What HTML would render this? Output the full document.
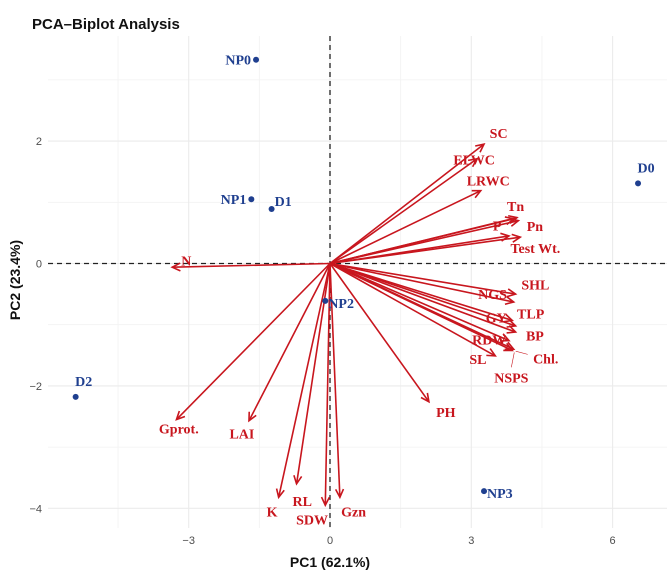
<!DOCTYPE html>
<html><head><meta charset="utf-8"><style>
html,body{margin:0;padding:0;background:#fff;}
svg{display:block;}
</style></head><body>
<svg id="chart" width="669" height="575" viewBox="0 0 669 575" xmlns="http://www.w3.org/2000/svg">
<text x="32" y="29" font-family="Liberation Sans, sans-serif" font-weight="bold" font-size="15" fill="#111">PCA–Biplot Analysis</text>
<g id="grid"></g>
<g id="axes"></g>
<g id="arrows"></g>
<g id="points"></g>
<text x="330" y="567" text-anchor="middle" font-family="Liberation Sans, sans-serif" font-weight="bold" font-size="14" fill="#111">PC1 (62.1%)</text>
<text transform="translate(20,280) rotate(-90)" text-anchor="middle" font-family="Liberation Sans, sans-serif" font-weight="bold" font-size="14" fill="#111">PC2 (23.4%)</text>
</svg>
<script>
const xTicks = [-3, 0, 3, 6];
const yTicks = [-4, -2, 0, 2];
const xMinor = [-4.5, -1.5, 1.5, 4.5];
const yMinor = [-3, -1, 1, 3];
const varNames = ["SC","ELWC","LRWC","Tn","P","Pn","Test Wt.","Test Wt.2","SHL","NGS","GY","TLP","BP","RDW","Chl.","NSPS","SL","PH","N","Gprot.","LAI","K","RL","SDW","Gzn"];
const varX = [3.27,3.12,3.20,3.97,3.90,4.00,3.80,4.04,3.94,3.90,3.87,3.94,3.94,3.80,3.90,3.87,3.51,2.10,-3.35,-3.26,-1.72,-1.09,-0.71,-0.10,0.21];
const varY = [1.95,1.71,1.19,0.75,0.73,0.70,0.45,0.43,-0.50,-0.63,-0.93,-1.02,-1.12,-1.26,-1.40,-1.42,-1.51,-2.26,-0.06,-2.55,-2.57,-3.82,-3.60,-3.95,-3.82];
const labelX = [3.58,3.06,3.36,3.94,3.55,4.35,4.36,null,4.36,3.45,3.53,4.26,4.35,3.38,4.58,3.85,3.14,2.46,-3.05,-3.21,-1.87,-1.23,-0.59,-0.38,0.50];
const labelY = [2.13,1.70,1.36,0.94,0.62,0.61,0.25,null,-0.34,-0.50,-0.88,-0.82,-1.18,-1.24,-1.55,-1.86,-1.56,-2.43,0.05,-2.70,-2.78,-4.05,-3.88,-4.18,-4.05];
const obsNames = ["NP0","NP1","D1","D0","NP2","D2","NP3"];
const obsX = [-1.57,-1.67,-1.24,6.54,-0.10,-5.4,3.27];
const obsY = [3.33,1.05,0.89,1.31,-0.61,-2.18,-3.72];

const X0=330, Y0=263.5, KX=47.1, KY=61.2;
const L=48, R=667, T=36, B=528;
const sx = v => X0 + KX*v;
const sy = v => Y0 - KY*v;
const NS="http://www.w3.org/2000/svg";
function mk(tag, attrs, parent){const e=document.createElementNS(NS,tag);for(const k in attrs)e.setAttribute(k,attrs[k]);parent.appendChild(e);return e;}
const grid=document.getElementById('grid'), axes=document.getElementById('axes'), arrows=document.getElementById('arrows'), points=document.getElementById('points');

xMinor.forEach(v=>{const l=mk('line',{x1:sx(v),x2:sx(v),y1:T,y2:B,stroke:'#f2f2f2','stroke-width':0.8},grid);

});
yMinor.forEach(v=>{const l=mk('line',{x1:L,x2:R,y1:sy(v),y2:sy(v),stroke:'#f2f2f2','stroke-width':0.8},grid);

});
xTicks.forEach(v=>{const l=mk('line',{x1:sx(v),x2:sx(v),y1:T,y2:B,stroke:'#ebebeb','stroke-width':1.1},grid);


const t=mk('text',{x:sx(v),y:B+16,'text-anchor':'middle','font-family':'Liberation Sans, sans-serif','font-size':11,fill:'#4d4d4d'},axes);
t.textContent=(v<0?'\u2212'+Math.abs(v):v);

});
yTicks.forEach(v=>{const l=mk('line',{x1:L,x2:R,y1:sy(v),y2:sy(v),stroke:'#ebebeb','stroke-width':1.1},grid);


const t=mk('text',{x:42,y:sy(v)+4,'text-anchor':'end','font-family':'Liberation Sans, sans-serif','font-size':11,fill:'#4d4d4d'},axes);
t.textContent=(v<0?'\u2212'+Math.abs(v):v);

});
const hz=mk('line',{x1:L,x2:R,y1:sy(0),y2:sy(0),stroke:'#222','stroke-width':1.3,'stroke-dasharray':'5,4'},axes);


const vz=mk('line',{x1:sx(0),x2:sx(0),y1:T,y2:B,stroke:'#222','stroke-width':1.3,'stroke-dasharray':'5,4'},axes);



const RED='#c8161e';
varNames.forEach((n,i)=>{
  const x1=sx(0),y1=sy(0),x2=sx(varX[i]),y2=sy(varY[i]);
  const g=mk('g',{},arrows);
  
  
  mk('line',{x1,y1,x2,y2,stroke:RED,'stroke-width':1.6},g);
  const a=Math.atan2(y2-y1,x2-x1), h=9, w=0.45;
  const p=`M${x2-h*Math.cos(a-w)},${y2-h*Math.sin(a-w)} L${x2},${y2} L${x2-h*Math.cos(a+w)},${y2-h*Math.sin(a+w)}`;
  mk('path',{d:p,fill:'none',stroke:RED,'stroke-width':1.6},g);
  if(labelX[i]!==null){
    const lx=sx(labelX[i]), ly=sy(labelY[i]);
    if(n==='Chl.'||n==='NSPS'){
      const ll=mk('line',{x1:lx-(n==='Chl.'?18:0),y1:ly-(n==='Chl.'?4:10),x2:x2+2,y2:y2+2,stroke:RED,'stroke-width':0.6},g);
      
      
    }
    const t=mk('text',{x:lx,y:ly+5,'text-anchor':'middle','font-family':'Liberation Serif, serif','font-weight':'bold','font-size':14,fill:RED},g);
    t.textContent=n;
    
    
  }
});

const BLUE='#1f3f8f';
obsNames.forEach((n,i)=>{
  const cx=sx(obsX[i]), cy=sy(obsY[i]);
  const g=mk('g',{},points);
  
  
  mk('circle',{cx,cy,r:3,fill:BLUE},g);
  let lx,ly,anchor;
  if(n==='NP0'||n==='NP1'){lx=cx-5;ly=cy+5;anchor='end';}
  else if(n==='D0'||n==='D2'){lx=cx+8;ly=cy-11;anchor='middle';}
  else if(n==='D1'){lx=cx+3;ly=cy-3;anchor='start';}
  else {lx=cx+3;ly=cy+7;anchor='start';}
  const t=mk('text',{x:lx,y:ly,'text-anchor':anchor,'font-family':'Liberation Serif, serif','font-weight':'bold','font-size':14,fill:BLUE},g);
  t.textContent=n;
  
  
});
</script>
</body></html>
